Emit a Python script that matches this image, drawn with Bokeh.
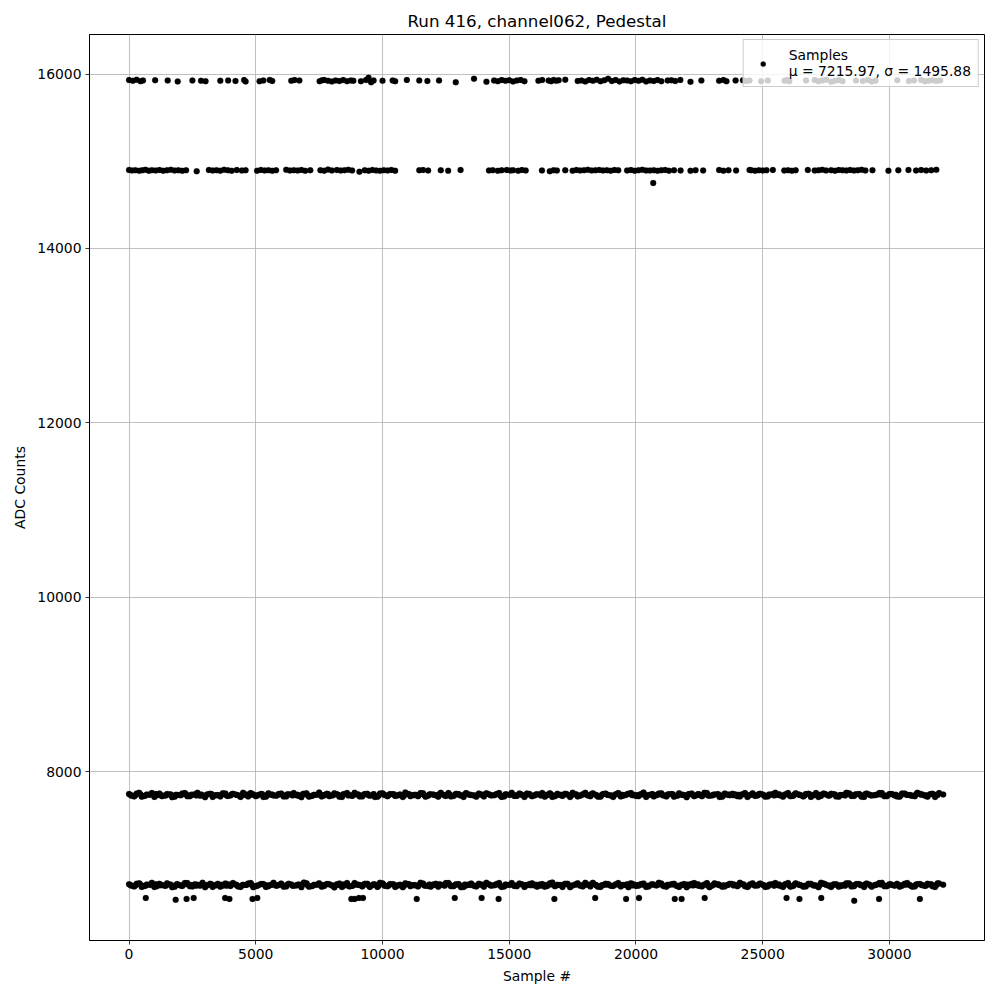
from bokeh.plotting import figure
from bokeh.models import ColumnDataSource, FixedTicker, Legend, LegendItem, Range1d
from bokeh.embed import file_html
from bokeh.resources import INLINE

# ---------------- data ----------------
title_text = "Run 416, channel062, Pedestal"
x_label = "Sample #"
y_label = "ADC Counts"
legend_label = "Samples\nμ = 7215.97, σ = 1495.88"
x_ticks = [0, 5000, 10000, 15000, 20000, 25000, 30000]
y_ticks = [8000, 10000, 12000, 14000, 16000]

# upper sparse band (~15925)
band_a_x = [
    0, 150, 300, 450, 550, 1030, 1525, 1920, 2500, 2840,
    3020, 3600, 3910, 4200, 4540, 4600, 5150, 5300, 5550, 5650,
    6400, 6530, 6720, 7520, 7620, 7700, 7850, 8000, 8150, 8300,
    8450, 8600, 8750, 8850, 9150, 9350, 9450, 9550, 9650, 10000,
    10400, 10500, 10960, 11450, 11770, 12230, 12890, 13610, 14100, 14400,
    14550, 14700, 14850, 15000, 15150, 15300, 15450, 15600, 16150, 16300,
    16550, 16650, 16750, 16850, 16950, 17210, 17700, 17850, 18000, 18150,
    18300, 18450, 18600, 18750, 18900, 19050, 19200, 19350, 19500, 19650,
    19800, 19950, 20100, 20250, 20400, 20550, 20700, 20850, 21000, 21250,
    21400, 21550, 21750, 22150, 22580, 23280, 23450, 23570, 23930, 24220,
    24350, 24480, 24940, 25200, 25860, 25950, 26050, 26710, 27050, 27200,
    27350, 27500, 27700, 27850, 28000, 28150, 28680, 28950, 29150, 29300,
    29450, 30310, 30770, 30970, 31250, 31400, 31550, 31700, 31850, 32000,
]
band_a_y = [
    15930, 15922, 15935, 15918, 15926, 15928, 15925, 15915, 15926, 15924,
    15918, 15922, 15925, 15920, 15930, 15915, 15918, 15926, 15932, 15920,
    15922, 15930, 15925, 15918, 15928, 15932, 15922, 15915, 15926, 15920,
    15930, 15918, 15925, 15922, 15918, 15930, 15958, 15905, 15925, 15922,
    15926, 15918, 15932, 15925, 15920, 15926, 15905, 15945, 15912, 15925,
    15918, 15930, 15922, 15928, 15915, 15925, 15932, 15918, 15922, 15930,
    15925, 15918, 15932, 15922, 15928, 15935, 15920, 15926, 15915, 15930,
    15922, 15935, 15918, 15928, 15945, 15920, 15932, 15915, 15928, 15925,
    15918, 15930, 15922, 15935, 15915, 15926, 15920, 15930, 15918, 15925,
    15928, 15920, 15932, 15910, 15925, 15922, 15930, 15918, 15926, 15928,
    15920, 15925, 15918, 15926, 15922, 15930, 15918, 15925, 15930, 15918,
    15926, 15935, 15912, 15922, 15930, 15918, 15925, 15920, 15932, 15915,
    15924, 15928, 15920, 15926, 15930, 15918, 15922, 15928, 15920, 15926,
]

# second sparse band (~14895), last point is the low outlier
band_b_x = [
    0, 120, 250, 400, 520, 650, 780, 900, 1050, 1200,
    1350, 1500, 1650, 1800, 1950, 2100, 2250, 2670, 3150, 3300,
    3450, 3600, 3750, 3900, 4050, 4250, 4450, 4600, 5050, 5200,
    5350, 5500, 5650, 5800, 6200, 6350, 6500, 6650, 6800, 6950,
    7150, 7550, 7700, 7850, 8000, 8200, 8350, 8500, 8650, 8800,
    9090, 9300, 9450, 9600, 9750, 9900, 10050, 10200, 10350, 10500,
    11450, 11600, 11800, 12300, 12590, 13080, 14200, 14350, 14550, 14700,
    14900, 15050, 15150, 15350, 15500, 15650, 16290, 16600, 16750, 16880,
    17210, 17500, 17650, 17800, 17950, 18100, 18250, 18400, 18550, 18700,
    18850, 19000, 19150, 19300, 19650, 19800, 19950, 20100, 20250, 20400,
    20550, 20700, 20850, 21000, 21150, 21300, 21500, 21760, 22150, 22350,
    22650, 23280, 23450, 23650, 23950, 24480, 24550, 24700, 24850, 25000,
    25150, 25400, 25850, 26000, 26150, 26300, 26780, 27050, 27200, 27350,
    27500, 27700, 27850, 28000, 28150, 28300, 28450, 28600, 28750, 28900,
    29050, 29330, 29960, 30350, 30750, 31050, 31250, 31450, 31650, 31850,
    20680,
]
band_b_y = [
    14900, 14894, 14898, 14890, 14896, 14902, 14892, 14898, 14895, 14900,
    14892, 14897, 14901, 14893, 14898, 14890, 14896, 14885, 14900, 14894,
    14898, 14892, 14902, 14896, 14890, 14899, 14893, 14897, 14891, 14900,
    14895, 14898, 14890, 14896, 14901, 14893, 14898, 14894, 14900, 14890,
    14896, 14898, 14892, 14904, 14895, 14899, 14893, 14897, 14901, 14894,
    14880, 14897, 14892, 14899, 14895, 14890, 14898, 14894, 14900, 14892,
    14896, 14899, 14893, 14897, 14891, 14900, 14895, 14898, 14890, 14896,
    14900, 14893, 14897, 14891, 14899, 14894, 14895, 14886, 14898, 14893,
    14897, 14892, 14900, 14895, 14898, 14902, 14893, 14897, 14900, 14895,
    14898, 14892, 14900, 14896, 14894, 14899, 14891, 14897, 14902, 14895,
    14893, 14898, 14890, 14896, 14900, 14892, 14897, 14894, 14890, 14898,
    14895, 14899, 14892, 14897, 14894, 14900, 14896, 14891, 14898, 14893,
    14897, 14900, 14894, 14898, 14891, 14896, 14899, 14893, 14897, 14902,
    14895, 14898, 14892, 14900, 14896, 14894, 14899, 14893, 14897, 14901,
    14895, 14898, 14892, 14897, 14900, 14894, 14899, 14893, 14897, 14901,
    14750,
]

# dense bands: three interleaved sets of sample positions and their values
dense_x = [
    0, 200, 400, 600, 800, 1000, 1200, 1400, 1600, 1800,
    2000, 2200, 2400, 2600, 2800, 3000, 3200, 3400, 3600, 3800,
    4000, 4200, 4400, 4600, 4800, 5000, 5200, 5400, 5600, 5800,
    6000, 6200, 6400, 6600, 6800, 7000, 7200, 7400, 7600, 7800,
    8000, 8200, 8400, 8600, 8800, 9000, 9200, 9400, 9600, 9800,
    10000, 10200, 10400, 10600, 10800, 11000, 11200, 11400, 11600, 11800,
    12000, 12200, 12400, 12600, 12800, 13000, 13200, 13400, 13600, 13800,
    14000, 14200, 14400, 14600, 14800, 15000, 15200, 15400, 15600, 15800,
    16000, 16200, 16400, 16600, 16800, 17000, 17200, 17400, 17600, 17800,
    18000, 18200, 18400, 18600, 18800, 19000, 19200, 19400, 19600, 19800,
    20000, 20200, 20400, 20600, 20800, 21000, 21200, 21400, 21600, 21800,
    22000, 22200, 22400, 22600, 22800, 23000, 23200, 23400, 23600, 23800,
    24000, 24200, 24400, 24600, 24800, 25000, 25200, 25400, 25600, 25800,
    26000, 26200, 26400, 26600, 26800, 27000, 27200, 27400, 27600, 27800,
    28000, 28200, 28400, 28600, 28800, 29000, 29200, 29400, 29600, 29800,
    30000, 30200, 30400, 30600, 30800, 31000, 31200, 31400, 31600, 31800,
    31960, 32120,
]
dense_x2 = [
    100, 300, 500, 700, 900, 1100, 1300, 1500, 1700, 1900,
    2100, 2300, 2500, 2700, 2900, 3100, 3300, 3500, 3700, 3900,
    4100, 4300, 4500, 4700, 4900, 5100, 5300, 5500, 5700, 5900,
    6100, 6300, 6500, 6700, 6900, 7100, 7300, 7500, 7700, 7900,
    8100, 8300, 8500, 8700, 8900, 9100, 9300, 9500, 9700, 9900,
    10100, 10300, 10500, 10700, 10900, 11100, 11300, 11500, 11700, 11900,
    12100, 12300, 12500, 12700, 12900, 13100, 13300, 13500, 13700, 13900,
    14100, 14300, 14500, 14700, 14900, 15100, 15300, 15500, 15700, 15900,
    16100, 16300, 16500, 16700, 16900, 17100, 17300, 17500, 17700, 17900,
    18100, 18300, 18500, 18700, 18900, 19100, 19300, 19500, 19700, 19900,
    20100, 20300, 20500, 20700, 20900, 21100, 21300, 21500, 21700, 21900,
    22100, 22300, 22500, 22700, 22900, 23100, 23300, 23500, 23700, 23900,
    24100, 24300, 24500, 24700, 24900, 25100, 25300, 25500, 25700, 25900,
    26100, 26300, 26500, 26700, 26900, 27100, 27300, 27500, 27700, 27900,
    28100, 28300, 28500, 28700, 28900, 29100, 29300, 29500, 29700, 29900,
    30100, 30300, 30500, 30700, 30900, 31100, 31300, 31500, 31700, 31900,
]
dense_x3 = [
    50, 250, 450, 650, 850, 1050, 1250, 1450, 1650, 1850,
    2050, 2250, 2450, 2650, 2850, 3050, 3250, 3450, 3650, 3850,
    4050, 4250, 4450, 4650, 4850, 5050, 5250, 5450, 5650, 5850,
    6050, 6250, 6450, 6650, 6850, 7050, 7250, 7450, 7650, 7850,
    8050, 8250, 8450, 8650, 8850, 9050, 9250, 9450, 9650, 9850,
    10050, 10250, 10450, 10650, 10850, 11050, 11250, 11450, 11650, 11850,
    12050, 12250, 12450, 12650, 12850, 13050, 13250, 13450, 13650, 13850,
    14050, 14250, 14450, 14650, 14850, 15050, 15250, 15450, 15650, 15850,
    16050, 16250, 16450, 16650, 16850, 17050, 17250, 17450, 17650, 17850,
    18050, 18250, 18450, 18650, 18850, 19050, 19250, 19450, 19650, 19850,
    20050, 20250, 20450, 20650, 20850, 21050, 21250, 21450, 21650, 21850,
    22050, 22250, 22450, 22650, 22850, 23050, 23250, 23450, 23650, 23850,
    24050, 24250, 24450, 24650, 24850, 25050, 25250, 25450, 25650, 25850,
    26050, 26250, 26450, 26650, 26850, 27050, 27250, 27450, 27650, 27850,
    28050, 28250, 28450, 28650, 28850, 29050, 29250, 29450, 29650, 29850,
    30050, 30250, 30450, 30650, 30850, 31050, 31250, 31450, 31650, 31850,
]
band_c_y = [
    7745, 7718, 7760, 7722, 7738, 7712, 7750, 7728, 7741, 7715,
    7733, 7756, 7719, 7744, 7725, 7709, 7748, 7731, 7716, 7752,
    7727, 7740, 7712, 7735, 7757, 7721, 7746, 7714, 7738, 7726,
    7751, 7718, 7742, 7730, 7709, 7754, 7723, 7737, 7716, 7748,
    7729, 7743, 7711, 7758, 7724, 7739, 7717, 7749, 7732, 7713,
    7755, 7720, 7744, 7728, 7710, 7747, 7734, 7719, 7753, 7725,
    7741, 7714, 7736, 7757, 7722, 7745, 7711, 7739, 7727, 7750,
    7716, 7743, 7731, 7758, 7718, 7737, 7724, 7752, 7712, 7746,
    7729, 7740, 7715, 7755, 7721, 7734, 7748, 7710, 7742, 7726,
    7759, 7719, 7738, 7713, 7751, 7728, 7744, 7717, 7735, 7756,
    7723, 7747, 7712, 7740, 7730, 7753, 7716, 7745, 7725, 7738,
    7709, 7750, 7732, 7719, 7757, 7727, 7742, 7714, 7736, 7748,
    7721, 7744, 7711, 7754, 7729, 7739, 7718, 7746, 7733, 7713,
    7758, 7724, 7741, 7716, 7749, 7730, 7710, 7752, 7726, 7743,
    7715, 7737, 7755, 7722, 7747, 7712, 7740, 7731, 7757, 7720,
    7745, 7728, 7714, 7751, 7735, 7719, 7748, 7725, 7742, 7711,
    7756, 7740,
]
band_c_y2 = [
    7726, 7750, 7714, 7741, 7758, 7731, 7720, 7747, 7709, 7735,
    7752, 7719, 7737, 7761, 7728, 7744, 7712, 7733, 7755, 7722,
    7748, 7730, 7760, 7717, 7743, 7733, 7711, 7754, 7727, 7746,
    7716, 7739, 7757, 7724, 7749, 7713, 7736, 7762, 7729, 7721,
    7753, 7715, 7742, 7734, 7759, 7718, 7745, 7726, 7710, 7751,
    7732, 7747, 7723, 7740, 7763, 7720, 7738, 7756, 7713, 7744,
    7730, 7760, 7722, 7717, 7749, 7728, 7757, 7735, 7715, 7741,
    7754, 7727, 7746, 7712, 7739, 7761, 7724, 7733, 7752, 7719,
    7744, 7758, 7731, 7712, 7748, 7723, 7736, 7760, 7718, 7742,
    7729, 7753, 7715, 7745, 7733, 7711, 7757, 7726, 7749, 7738,
    7721, 7762, 7734, 7717, 7751, 7728, 7743, 7714, 7755, 7732,
    7747, 7720, 7739, 7759, 7725, 7741, 7710, 7752, 7730, 7744,
    7716, 7756, 7735, 7723, 7748, 7713, 7737, 7761, 7727, 7742,
    7719, 7753, 7731, 7746, 7712, 7758, 7724, 7740, 7749, 7718,
    7733, 7760, 7722, 7744, 7714, 7750, 7729, 7738, 7756, 7721,
    7745, 7717, 7752, 7734, 7726, 7759, 7740, 7715, 7748, 7735,
]
band_c_y3 = [
    7736, 7731, 7742, 7728, 7739, 7745, 7733, 7727, 7740, 7736,
    7730, 7744, 7737, 7729, 7741, 7734, 7746, 7732, 7738, 7727,
    7743, 7735, 7730, 7740, 7737, 7728, 7745, 7733, 7739, 7731,
    7736, 7742, 7729, 7738, 7744, 7732, 7727, 7741, 7735, 7746,
    7730, 7737, 7743, 7728, 7734, 7740, 7736, 7731, 7745, 7729,
    7739, 7733, 7742, 7737, 7727, 7744, 7732, 7738, 7730, 7741,
    7735, 7746, 7728, 7740, 7734, 7731, 7743, 7737, 7729, 7739,
    7744, 7733, 7736, 7727, 7742, 7738, 7730, 7745, 7735, 7732,
    7740, 7728, 7737, 7743, 7731, 7736, 7746, 7729, 7741, 7734,
    7738, 7745, 7730, 7733, 7739, 7727, 7742, 7736, 7744, 7731,
    7735, 7740, 7728, 7746, 7737, 7732, 7739, 7743, 7729, 7736,
    7741, 7730, 7745, 7734, 7727, 7738, 7744, 7733, 7740, 7731,
    7737, 7742, 7729, 7736, 7745, 7732, 7739, 7728, 7743, 7735,
    7730, 7741, 7738, 7727, 7744, 7734, 7737, 7746, 7731, 7740,
    7733, 7728, 7742, 7739, 7736, 7745, 7730, 7735, 7741, 7729,
    7744, 7737, 7732, 7740, 7727, 7743, 7738, 7731, 7746, 7736,
]
band_d_y = [
    6710, 6684, 6722, 6690, 6705, 6678, 6716, 6695, 6708, 6681,
    6700, 6724, 6687, 6712, 6693, 6676, 6718, 6698, 6683, 6720,
    6691, 6707, 6680, 6703, 6725, 6688, 6714, 6679, 6706, 6694,
    6719, 6685, 6709, 6697, 6677, 6723, 6689, 6704, 6682, 6715,
    6696, 6711, 6678, 6726, 6692, 6706, 6684, 6717, 6699, 6680,
    6721, 6687, 6712, 6695, 6677, 6714, 6701, 6686, 6720, 6692,
    6708, 6681, 6703, 6725, 6689, 6713, 6678, 6707, 6694, 6718,
    6683, 6710, 6698, 6726, 6685, 6704, 6691, 6719, 6679, 6714,
    6696, 6707, 6682, 6722, 6688, 6701, 6716, 6677, 6709, 6693,
    6727, 6686, 6705, 6680, 6718, 6695, 6711, 6684, 6702, 6723,
    6690, 6715, 6679, 6707, 6697, 6720, 6683, 6712, 6692, 6705,
    6676, 6717, 6699, 6686, 6724, 6694, 6709, 6681, 6703, 6715,
    6688, 6711, 6678, 6721, 6696, 6706, 6685, 6713, 6700, 6680,
    6725, 6691, 6708, 6683, 6716, 6697, 6677, 6719, 6693, 6710,
    6682, 6704, 6722, 6689, 6714, 6679, 6707, 6698, 6724, 6687,
    6712, 6695, 6681, 6718, 6702, 6686, 6715, 6692, 6709, 6678,
    6720, 6705,
]
band_d_y2 = [
    6695, 6718, 6680, 6709, 6727, 6688, 6702, 6721, 6676, 6713,
    6690, 6724, 6684, 6706, 6729, 6698, 6679, 6716, 6693, 6711,
    6726, 6686, 6704, 6720, 6677, 6699, 6714, 6689, 6728, 6701,
    6683, 6717, 6694, 6708, 6730, 6681, 6705, 6723, 6690, 6712,
    6675, 6719, 6697, 6685, 6725, 6703, 6716, 6680, 6709, 6727,
    6692, 6714, 6678, 6706, 6722, 6687, 6700, 6729, 6695, 6682,
    6718, 6704, 6724, 6689, 6711, 6676, 6697, 6720, 6684, 6707,
    6728, 6693, 6715, 6679, 6702, 6726, 6688, 6710, 6698, 6721,
    6683, 6713, 6691, 6730, 6705, 6678, 6717, 6696, 6723, 6686,
    6708, 6727, 6681, 6699, 6715, 6690, 6725, 6703, 6677, 6712,
    6694, 6720, 6685, 6706, 6729, 6688, 6701, 6718, 6680, 6714,
    6697, 6724, 6691, 6709, 6676, 6722, 6699, 6684, 6716, 6705,
    6728, 6687, 6711, 6693, 6719, 6679, 6707, 6726, 6690, 6713,
    6682, 6721, 6700, 6686, 6717, 6695, 6729, 6704, 6678, 6710,
    6692, 6723, 6685, 6714, 6698, 6720, 6681, 6708, 6727, 6689,
    6703, 6716, 6694, 6725, 6683, 6711, 6700, 6718, 6688, 6722,
]
band_d_y3 = [
    6702, 6697, 6708, 6694, 6705, 6711, 6699, 6693, 6706, 6702,
    6696, 6710, 6703, 6695, 6707, 6700, 6712, 6698, 6704, 6693,
    6709, 6701, 6696, 6706, 6703, 6694, 6711, 6699, 6705, 6697,
    6702, 6708, 6695, 6704, 6710, 6698, 6693, 6707, 6701, 6712,
    6696, 6703, 6709, 6694, 6700, 6706, 6702, 6697, 6711, 6695,
    6705, 6699, 6708, 6703, 6693, 6710, 6698, 6704, 6696, 6707,
    6701, 6712, 6694, 6706, 6700, 6697, 6709, 6703, 6695, 6705,
    6710, 6699, 6702, 6693, 6708, 6704, 6696, 6711, 6701, 6698,
    6706, 6694, 6703, 6709, 6697, 6702, 6712, 6695, 6707, 6700,
    6704, 6711, 6696, 6699, 6705, 6693, 6708, 6702, 6710, 6697,
    6701, 6706, 6694, 6712, 6703, 6698, 6705, 6709, 6695, 6702,
    6707, 6696, 6711, 6700, 6693, 6704, 6710, 6699, 6706, 6697,
    6703, 6708, 6695, 6702, 6711, 6698, 6705, 6694, 6709, 6701,
    6696, 6707, 6704, 6693, 6710, 6700, 6703, 6712, 6697, 6706,
    6699, 6694, 6708, 6705, 6702, 6711, 6696, 6701, 6707, 6695,
    6710, 6703, 6698, 6706, 6693, 6709, 6704, 6697, 6712, 6702,
]

# low outliers below the lowest band
low_x = [
    660, 1840, 2270, 2550, 3790, 3960, 4870, 5060, 8770, 8900,
    9070, 9230, 11350, 12850, 13910, 14580, 16780, 18390, 19610, 20120,
    21530, 21800, 22710, 25940, 26450, 27310, 28610, 29590, 31200,
]
low_y = [
    6554, 6532, 6543, 6554, 6554, 6543, 6543, 6554, 6543, 6543,
    6554, 6554, 6543, 6554, 6554, 6543, 6543, 6554, 6543, 6554,
    6543, 6543, 6554, 6554, 6543, 6554, 6521, 6543, 6543,
]

# ---------------- figure ----------------
FONT = "DejaVu Sans"

all_x = (band_a_x + band_b_x
         + dense_x + dense_x2 + dense_x3
         + dense_x + dense_x2 + dense_x3
         + low_x)
all_y = (band_a_y + band_b_y
         + band_c_y + band_c_y2 + band_c_y3
         + band_d_y + band_d_y2 + band_d_y3
         + low_y)
src = ColumnDataSource(data=dict(x=all_x, y=all_y))

p = figure(
    frame_width=895, frame_height=906,
    min_border_left=89, min_border_right=5, min_border_top=34, min_border_bottom=48,
    x_range=Range1d(-1560, 33750), y_range=Range1d(6066, 16453),
    output_backend="svg", toolbar_location=None,
    background_fill_color="white", border_fill_color="white",
)
p.title.text = title_text
p.title.align = "center"
p.title.text_font = FONT
p.title.text_font_size = "16.7px"
p.title.text_font_style = "normal"
p.title.text_color = "black"
p.title.standoff = 8

p.outline_line_color = "black"
p.outline_line_width = 1
p.outline_line_alpha = 1

for ax in (p.xaxis[0], p.yaxis[0]):
    ax.axis_line_color = "black"
    ax.major_tick_line_color = "black"
    ax.major_tick_line_width = 0.8
    ax.major_tick_in = 0
    ax.major_tick_out = 4
    ax.minor_tick_line_color = None
    ax.major_label_text_font = FONT
    ax.major_label_text_font_size = "13.9px"
    ax.major_label_text_color = "black"
    ax.major_label_standoff = 4
    ax.axis_label_text_font = FONT
    ax.axis_label_text_font_size = "13.9px"
    ax.axis_label_text_font_style = "normal"
    ax.axis_label_text_color = "black"

p.xaxis[0].ticker = FixedTicker(ticks=x_ticks)
p.yaxis[0].ticker = FixedTicker(ticks=y_ticks)
p.xaxis[0].axis_label = x_label
p.yaxis[0].axis_label = y_label
p.xaxis[0].axis_label_standoff = 6
p.yaxis[0].axis_label_standoff = 6

p.xgrid[0].ticker = FixedTicker(ticks=x_ticks)
p.ygrid[0].ticker = FixedTicker(ticks=y_ticks)
for g in (p.xgrid[0], p.ygrid[0]):
    g.grid_line_color = "#b0b0b0"
    g.grid_line_width = 0.8

r = p.scatter("x", "y", source=src, size=6, fill_color="black", line_color="black",
              line_width=0.2)

legend = Legend(
    items=[LegendItem(label=legend_label, renderers=[r])],
    location="top_right",
    margin=5, padding=7, spacing=0,
    glyph_width=24, glyph_height=13, label_standoff=14,
    label_text_font=FONT, label_text_font_size="13.9px", label_text_color="black",
    background_fill_color="white", background_fill_alpha=0.8,
    border_line_color="#cccccc", border_line_width=1, border_line_alpha=1,
)
p.add_layout(legend)

open("out.html", "w").write(file_html(p, INLINE))
